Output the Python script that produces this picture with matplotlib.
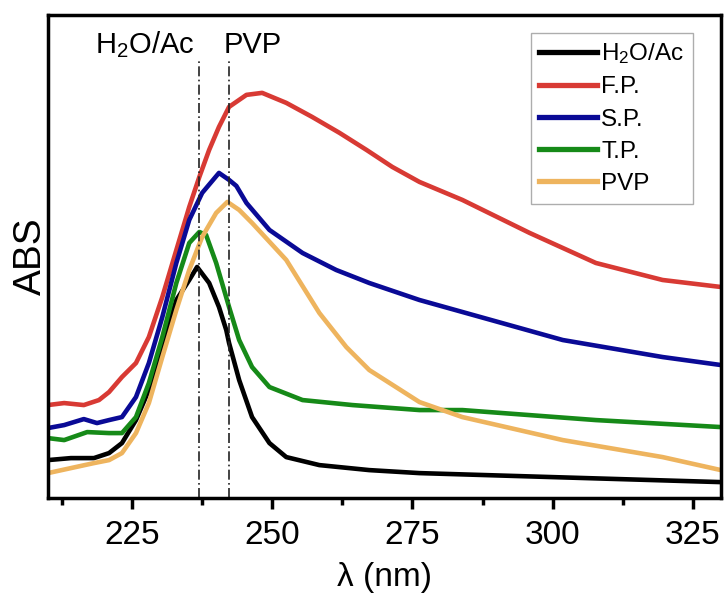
import matplotlib
matplotlib.use("Agg")
import matplotlib.pyplot as plt
from matplotlib.ticker import MultipleLocator, NullLocator

plt.rcParams['font.family'] = ['Liberation Sans', 'DejaVu Sans']
plt.rcParams['mathtext.default'] = 'regular'

# ---- data (ABS in arbitrary units) ----
h2o_x = [210, 214.1, 218.2, 220.9, 223.2, 225.7, 228.0, 230.4, 232.9, 235.2, 236.6,
         238.75, 240.5, 241.8, 242.3, 244.1, 246.4, 249.5, 252.5, 258.4, 267.3, 276.25, 300, 330]
h2o_y = [0.38, 0.40, 0.40, 0.45, 0.55, 0.78, 1.08, 1.51, 1.98, 2.18, 2.31,
         2.15, 1.91, 1.68, 1.55, 1.18, 0.81, 0.55, 0.41, 0.33, 0.28, 0.25, 0.21, 0.16]

fp_x = [210, 212.9, 216.4, 219.1, 220.9, 223.2, 225.7, 228.0, 230.4, 232.9, 235.2, 237.0,
        238.75, 240.5, 242.3, 245.4, 248.2, 252.5, 257.1, 262.0, 266.8, 271.4, 276.25,
        283.9, 295.9, 307.7, 319.6, 330]
fp_y = [0.93, 0.95, 0.93, 0.98, 1.06, 1.21, 1.35, 1.61, 2.01, 2.48, 2.91, 3.21,
        3.48, 3.71, 3.91, 4.03, 4.05, 3.95, 3.81, 3.65, 3.48, 3.31, 3.16,
        2.98, 2.65, 2.35, 2.18, 2.11]

sp_x = [210, 212.9, 216.4, 218.75, 220.9, 223.2, 225.7, 228.0, 230.4, 232.9, 235.2, 237.5,
        240.5, 242.3, 243.6, 245.4, 249.5, 255.4, 261.4, 267.3, 276.25, 301.8, 319.6, 330]
sp_y = [0.70, 0.73, 0.79, 0.75, 0.78, 0.81, 1.01, 1.35, 1.81, 2.35, 2.78, 3.05,
        3.25, 3.18, 3.12, 2.95, 2.68, 2.45, 2.28, 2.15, 1.98, 1.58, 1.41, 1.33]

tp_x = [210, 212.9, 217.0, 220.9, 223.2, 225.7, 228.0, 230.4, 232.9, 235.2, 237.0, 238.2,
        240.0, 242.3, 244.1, 246.4, 249.5, 255.4, 264.3, 276.25, 283.9, 307.7, 330]
tp_y = [0.60, 0.58, 0.66, 0.65, 0.65, 0.81, 1.15, 1.61, 2.15, 2.55, 2.66, 2.63,
        2.35, 1.91, 1.58, 1.31, 1.11, 0.98, 0.93, 0.88, 0.88, 0.78, 0.71]

pvp_x = [210, 214.1, 218.2, 220.9, 223.2, 225.7, 228.0, 230.4, 232.9, 235.2, 237.5, 240.0,
         242.0, 244.1, 246.4, 252.5, 258.4, 263.2, 267.3, 276.25, 283.9, 301.8, 319.6, 330]
pvp_y = [0.25, 0.30, 0.35, 0.38, 0.45, 0.65, 0.95, 1.41, 1.88, 2.28, 2.61, 2.85,
         2.96, 2.88, 2.75, 2.38, 1.85, 1.51, 1.28, 0.96, 0.81, 0.58, 0.41, 0.28]

labels = ['H$_2$O/Ac', 'F.P.', 'S.P.', 'T.P.', 'PVP']
colors = ['#000000', '#d83a34', '#0a0a96', '#168a18', '#eeb45e']

marker_x = [237.0, 242.2]
marker_labels = ['H$_2$O/Ac', 'PVP']
marker_label_x = [227.3, 246.6]

x_ticks = [225, 250, 275, 300, 325]

# ---- figure ----
fig = plt.figure(figsize=(7.26, 5.93), dpi=100)
ax = fig.add_axes([0.066, 0.160, 0.927, 0.815])

series = [(h2o_x, h2o_y), (fp_x, fp_y), (sp_x, sp_y), (tp_x, tp_y), (pvp_x, pvp_y)]
for (xs, ys), lab, col in zip(series, labels, colors):
    ax.plot(xs, ys, color=col, lw=3.3, label=lab, solid_joinstyle='round')

for mx in marker_x:
    ax.plot([mx, mx], [0, 4.38], color='#222222', lw=1.2,
            linestyle=(0, (6, 2, 1, 2)))

for lx, lab in zip(marker_label_x, marker_labels):
    ax.text(lx, 4.45, lab, ha='center', va='baseline', fontsize=21)

ax.set_xlim(210, 330)
ax.set_ylim(0, 4.83)
ax.set_xticks(x_ticks)
ax.xaxis.set_minor_locator(MultipleLocator(12.5))
ax.yaxis.set_major_locator(NullLocator())
ax.yaxis.set_minor_locator(NullLocator())
ax.tick_params(axis='x', which='major', direction='out', length=8, width=2.5,
               labelsize=24, pad=8)
ax.tick_params(axis='x', which='minor', direction='out', length=5, width=2.5)
for sp in ax.spines.values():
    sp.set_linewidth(2.5)

ax.set_xlabel('λ (nm)', fontsize=24, labelpad=8)
ax.set_ylabel('ABS', fontsize=28, labelpad=-1)

leg = ax.legend(loc='upper right', bbox_to_anchor=(0.958, 0.963), borderaxespad=0,
                fontsize=17.5, handlelength=2.4, handletextpad=0.15, labelspacing=0.42,
                frameon=True, fancybox=False, edgecolor='#999999', borderpad=0.35)
leg.get_frame().set_linewidth(1.0)
for line in leg.get_lines():
    line.set_linewidth(3.8)

fig.savefig('out.png', dpi=100)
